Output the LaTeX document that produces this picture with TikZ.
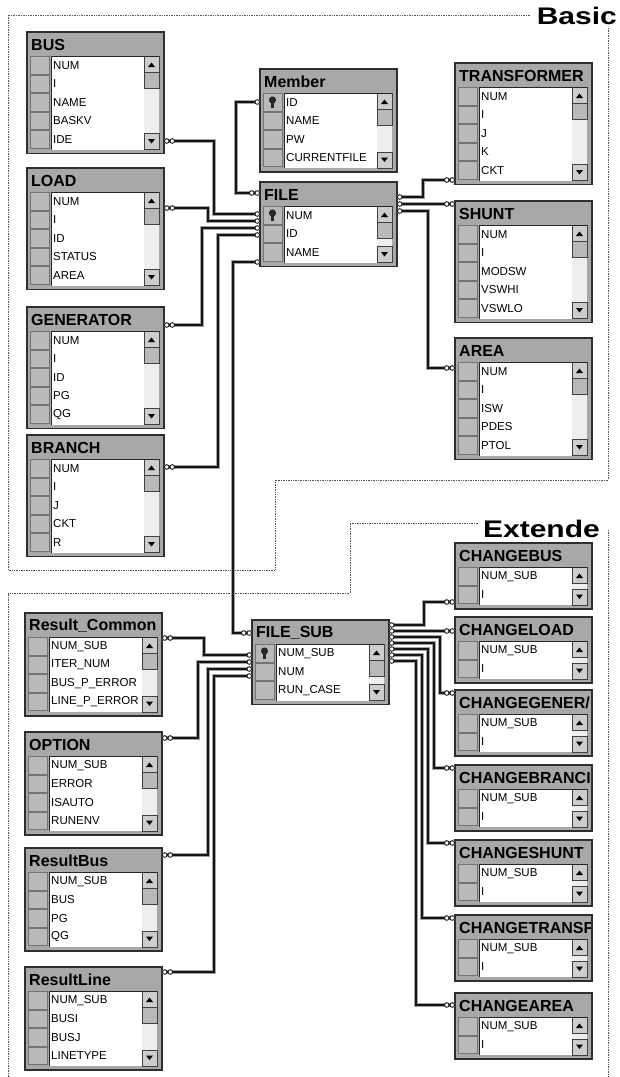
\documentclass[tikz,border=0pt]{standalone}
\usepackage{fontspec}
\setmainfont{Liberation Sans}
\newfontfamily\zonefont[FakeStretch=1.25]{Liberation Sans}
\usetikzlibrary{arrows.meta}
\definecolor{dbframe}{HTML}{2E2E2E}
\definecolor{dbgrey}{HTML}{A8A8A8}
\definecolor{dbsel}{HTML}{B9B9B9}
\definecolor{dbbtn}{HTML}{CDCDCD}
\definecolor{dbtrack}{HTML}{EEEEEE}
\definecolor{dbline}{HTML}{141414}
\definecolor{dbhalo}{HTML}{A4A4A4}
\definecolor{dbzone}{HTML}{555555}
\tikzset{
  tabbox/.style  = {rectangle, draw=dbframe, line width=1.4pt, fill=dbgrey,
                    minimum width=137pt, anchor=north west, inner sep=0pt, outer sep=0pt},
  tabtitle/.style= {anchor=west, inner sep=0pt, font=\fontsize{16}{16}\selectfont\bfseries},
  fld/.style     = {anchor=west, inner sep=0pt, font=\fontsize{11.5}{12}\selectfont},
  selcell/.style = {fill=dbsel, draw=black!55, line width=0.5pt},
  sbtn/.style    = {fill=dbbtn, draw=black!75, line width=0.6pt},
  rel/.style     = {draw=dbline, line width=1.4pt,
                    preaction={draw=dbhalo, line width=4.6pt, arrows=-},
                    arrows={Circle[length=5.5pt,width=5.5pt,fill=white,line width=0.9pt]-Circle[length=5.5pt,width=5.5pt,fill=white,line width=0.9pt]Circle[length=5.5pt,width=5.5pt,fill=white,line width=0.9pt]}},
  zone/.style    = {draw=dbzone, line width=0.7pt, densely dotted},
  zonelbl/.style = {anchor=base east, inner sep=0pt,
                    font=\zonefont\bfseries\fontsize{24}{24}\selectfont},
}
% table: name, x, y, rows, title, fields
\newcommand{\dbtab}[6]{%
  \pgfmathsetmacro{\tabh}{29+18.5*#4}
  \node[tabbox, minimum height=\tabh pt] (#1) at (#2,#3) {};
  \begin{scope}[shift={(#1.north west)}]
    \begin{scope}
      \clip (2,2) rectangle (135,23);
      \node[tabtitle] (#1-title) at (4,12.5) {#5};
    \end{scope}
    \fill[white] (24,24) rectangle (132,{\tabh-4});
    \foreach \f [count=\i] in {#6}{
      \draw[selcell] (3,{24+18.5*(\i-1)+0.5}) rectangle (22,{24+18.5*\i-0.5});
      \node[fld] (#1-f\i) at (26,{24+18.5*(\i-0.5)}) {\f};
    }
    \fill[dbtrack] (117,24) rectangle (132,{\tabh-4});
    \draw[sbtn] (117,24) rectangle (132,40);
    \fill (121,35) -- (128,35) -- (124.5,30.5) -- cycle;
    \draw[sbtn] (117,{\tabh-20}) rectangle (132,{\tabh-4});
    \fill (121,{\tabh-14.5}) -- (128,{\tabh-14.5}) -- (124.5,{\tabh-10}) -- cycle;
    \ifnum#4>2\relax \draw[sbtn, fill=dbsel] (117,40) rectangle (132,56); \fi
    \draw[black!85, line width=0.8pt] (24,{\tabh-4}) -- (24,24) -- (132,24);
  \end{scope}
}
\newcommand{\dbkey}[1]{%
  \begin{scope}[shift={(#1.north west)}]
    \fill[black!85] (12.5,31) circle (3.6);
    \fill[black!85] (11.4,33) rectangle (13.6,39);
  \end{scope}
}

\begin{document}
\begin{tikzpicture}[x=1pt,y=-1pt]
  \useasboundingbox (0,0) rectangle (620,1077);
  \fill[white] (0,0) rectangle (620,1077);

  \draw[zone] (530,15) -- (8,15) -- (8,570) -- (275,570) -- (275,480) -- (608,480) -- (608,28);
  \node[zonelbl] (basic) at (617,24) {Basic};
  \draw[zone] (478,523) -- (350,523) -- (350,593) -- (8,593) -- (8,1077);
  \draw[zone] (608,530) -- (608,1077);
  \node[zonelbl] (extended) at (600,537) {Extende};

  \dbtab{bus}{27}{32}{5}{BUS}{NUM,I,NAME,BASKV,IDE}
  \dbtab{load}{27}{168}{5}{LOAD}{NUM,I,ID,STATUS,AREA}
  \dbtab{gen}{27}{307}{5}{GENERATOR}{NUM,I,ID,PG,QG}
  \dbtab{branch}{27}{435}{5}{BRANCH}{NUM,I,J,CKT,R}
  \dbtab{member}{260}{69}{4}{Member}{ID,NAME,PW,CURRENTFILE}
  \dbtab{file}{260}{182}{3}{FILE}{NUM,ID,NAME}
  \dbtab{trans}{455}{63}{5}{TRANSFORMER}{NUM,I,J,K,CKT}
  \dbtab{shunt}{455}{201}{5}{SHUNT}{NUM,I,MODSW,VSWHI,VSWLO}
  \dbtab{area}{455}{338}{5}{AREA}{NUM,I,ISW,PDES,PTOL}

  \dbtab{rcommon}{25}{613}{4}{Result\_Common}{NUM\_SUB,ITER\_NUM,BUS\_P\_ERROR,LINE\_P\_ERROR}
  \dbtab{option}{25}{732}{4}{OPTION}{NUM\_SUB,ERROR,ISAUTO,RUNENV}
  \dbtab{rbus}{25}{848}{4}{ResultBus}{NUM\_SUB,BUS,PG,QG}
  \dbtab{rline}{25}{967}{4}{ResultLine}{NUM\_SUB,BUSI,BUSJ,LINETYPE}
  \dbtab{filesub}{252}{620}{3}{FILE\_SUB}{NUM\_SUB,NUM,RUN\_CASE}
  \dbtab{cbus}{455}{543}{2}{CHANGEBUS}{NUM\_SUB,I}
  \dbtab{cload}{455}{617}{2}{CHANGELOAD}{NUM\_SUB,I}
  \dbtab{cgen}{455}{690}{2}{CHANGEGENER/}{NUM\_SUB,I}
  \dbtab{cbranch}{455}{765}{2}{CHANGEBRANCI}{NUM\_SUB,I}
  \dbtab{cshunt}{455}{840}{2}{CHANGESHUNT}{NUM\_SUB,I}
  \dbtab{ctrans}{455}{915}{2}{CHANGETRANSF}{NUM\_SUB,I}
  \dbtab{carea}{455}{993}{2}{CHANGEAREA}{NUM\_SUB,I}
  \dbkey{member}
  \dbkey{file}
  \dbkey{filesub}

  \draw[rel] (member.west|-0,102) -- (236,102) |- (file.west|-0,193);
  \draw[rel] (file.west|-0,214) -| (214,141) -- (bus.east|-0,141);
  \draw[rel] (file.west|-0,221) -| (208,208) -- (load.east|-0,208);
  \draw[rel] (file.west|-0,228) -| (202,325) -- (gen.east|-0,325);
  \draw[rel] (file.west|-0,235) -| (218,467) -- (branch.east|-0,467);
  \draw[rel] (file.east|-0,197) -| (423,180) -- (trans.west|-0,180);
  \draw[rel] (file.east|-0,204) -- (shunt.west|-0,204);
  \draw[rel] (file.east|-0,211) -| (428,368) -- (area.west|-0,368);
  \draw[rel] (file.west|-0,262) -| (233,633) -- (filesub.west|-0,633);

  \draw[rel] (filesub.west|-0,655) -| (204,638) -- (rcommon.east|-0,638);
  \draw[rel] (filesub.west|-0,662) -| (198,738) -- (option.east|-0,738);
  \draw[rel] (filesub.west|-0,669) -| (208,855) -- (rbus.east|-0,855);
  \draw[rel] (filesub.west|-0,676) -| (214,972) -- (rline.east|-0,972);
  \draw[rel] (filesub.east|-0,625) -| (424,602) -- (cbus.west|-0,602);
  \draw[rel] (filesub.east|-0,631) -- (cload.west|-0,631);
  \draw[rel] (filesub.east|-0,637) -| (440,693) -- (cgen.west|-0,693);
  \draw[rel] (filesub.east|-0,643) -| (434,768) -- (cbranch.west|-0,768);
  \draw[rel] (filesub.east|-0,649) -| (428,843) -- (cshunt.west|-0,843);
  \draw[rel] (filesub.east|-0,655) -| (422,918) -- (ctrans.west|-0,918);
  \draw[rel] (filesub.east|-0,661) -| (416,1005) -- (carea.west|-0,1005);
\end{tikzpicture}
\end{document}
